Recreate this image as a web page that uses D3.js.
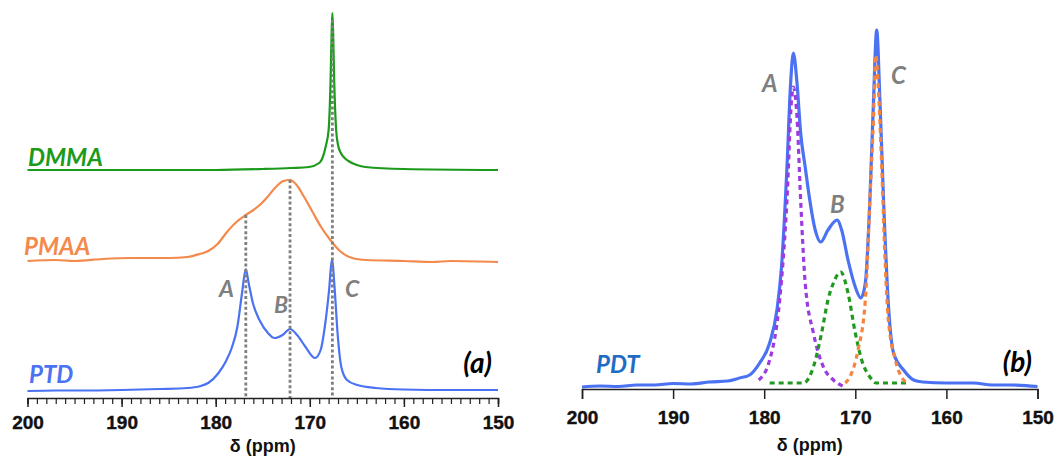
<!DOCTYPE html>
<html>
<head>
<meta charset="utf-8">
<script src="https://cdn.jsdelivr.net/npm/d3@7"></script>
<style>
  body { margin: 0; background: #fff; }
  svg { display: block; }
  .lbl { font-family: Lato, "Open Sans", sans-serif; font-weight: 700; font-style: italic; }
  .tick text { font-family: "Liberation Sans", Arial, sans-serif; font-weight: 700; }
</style>
</head>
<body>
<svg id="chart" width="1058" height="462"></svg>
<script>
// ---- data, [ppm, intensity a.u.] ----
var majorTicks = [200, 190, 180, 170, 160, 150];
var peakPpm = [176.8, 172.1, 167.6];       // A, B, C
var peakNames = ["A", "B", "C"];

// panel (a): stacked spectra, offsets in a.u.
var offsets = {PTD: 7, PMAA: 137, DMMA: 228};

var dmma = [[200,0],[190,0],[180,0],[175,1],[172,2],[170.1,3],[169,7],[168.7,11],[168.3,24],
  [168,40],[167.8,87],[167.68,137],[167.6,157],[167.52,137],[167.4,87],[167.2,40],[167,25],
  [166.7,17],[166.3,12],[165.9,9],[165,5],[164.1,3],[160,1],[150,0]];

var pmaa = [[200,0],[197,1],[195,0],[192,2],[189,3],[185,3],[183,4],[181.7,7],[180.8,10],[179.8,17],
  [178.8,29],[177.8,39],[176.8,46],[176,51],[175.2,57],[174.6,63],[173.6,74],[172.8,80],
  [172.1,81],[171.4,76],[170.6,64],[169.7,49],[168.8,34],[167.9,22],[166.8,10],[165.5,3],
  [164,1],[160,0],[157,-1],[155,0],[150,-1]];

var ptd = [[200,0],[197,0.5],[195,0.5],[190,1],[186,2],[183,3],[181.8,4.5],[180.8,8],[179.7,18],
  [178.9,30],[178.3,43],[177.7,64],[177.2,98],[176.8,122],[176.5,108],[176.05,88],[175.35,71],
  [174.45,58],[173.75,53],[172.9,56],[172.1,62],[171.35,56],[170.45,44],[169.45,33],
  [168.85,41],[168.35,68],[167.95,101],[167.65,132],[167.35,101],[167.05,58],[166.65,24],
  [166.05,11],[164.95,6],[163,3],[160,1.5],[155,1],[150,1]];

// panel (b): PDT spectrum and its three fitted components
var pdt = [[200,2],[198,3],[196,2.5],[194,4],[192,4],[190,5.5],[188,5],[186,7],[184,8],[182.7,11],
  [181.6,14],[180.5,26],[179.4,46],[178.6,79],[178.1,122],[177.5,222],[177.1,306],[176.8,336],
  [176.4,306],[176,256],[175.5,222],[175,189],[174.4,159],[173.8,147],[173,159],[172,169],
  [171.5,159],[170.8,129],[170,102],[169.4,91],[168.9,106],[168.4,189],[168,289],[167.65,359],
  [167.3,289],[166.9,189],[166.4,89],[165.8,36],[164.7,19],[163.6,9],[162.6,7],[160,6],
  [157,6],[155,4],[153,4],[150,2.5]];

var fitA = [[180.6,9],[179.4,29],[178.3,89],[177.5,189],[177,289],[176.8,302],[176.4,272],
  [176,189],[175.5,106],[174.6,56],[173.5,22],[172.4,9],[171.1,2]];
var fitB = [[179.4,6],[175.7,6],[174.6,22],[173.7,56],[173,89],[172.4,106],[171.6,117],
  [170.8,96],[170,56],[169.3,29],[168.4,12],[167.7,6],[164.2,6]];
var fitC = [[171.1,6],[170.6,12],[169.7,39],[168.9,89],[168.4,189],[168,272],[167.75,334],
  [167.5,306],[167.1,222],[166.7,122],[166.4,72],[165.6,29],[164.4,6]];

// ---- drawing ----
var svg = d3.select("#chart");

var green = "#1b9a1b", orange = "#f4894c", blue = "#4a72f2", grey = "#7f7f7f";

// panel (a)
var xA = d3.scaleLinear().domain([200, 150]).range([27.5, 498]);
var yA = d3.scaleLinear().domain([0, 385]).range([398, 13]);

function lineA(off) {
	return d3.line()
		.x(function(d) { return xA(d[0]); })
		.y(function(d) { return yA(d[1] + off); })
		.curve(d3.curveMonotoneX);
}

var gA = svg.append("g");
gA.append("path").datum(dmma).attr("d", lineA(offsets.DMMA))
	.attr("fill", "none").attr("stroke", green).attr("stroke-width", 2.2);
gA.append("path").datum(pmaa).attr("d", lineA(offsets.PMAA))
	.attr("fill", "none").attr("stroke", orange).attr("stroke-width", 2.2);
gA.append("path").datum(ptd).attr("d", lineA(offsets.PTD))
	.attr("fill", "none").attr("stroke", blue).attr("stroke-width", 2.2);

// dotted guides from the PMAA / DMMA features down to the axis
var guideTop = [yA(46 + offsets.PMAA), yA(81 + offsets.PMAA), yA(150 + offsets.DMMA)];
gA.selectAll(".guide").data(peakPpm).enter().append("line")
	.attr("x1", function(d) { return xA(d); })
	.attr("x2", function(d) { return xA(d); })
	.attr("y1", function(d, i) { return guideTop[i]; })
	.attr("y2", yA(0))
	.attr("stroke", grey).attr("stroke-width", 2.8).attr("stroke-dasharray", "3,2.4");

var axA = gA.append("g").attr("transform", "translate(0," + yA(0) + ")");
axA.call(d3.axisBottom(xA).tickValues(d3.range(200, 149, -1)).tickSize(6).tickFormat(""));
axA.call(function(g) {
	g.selectAll(".tick line").attr("stroke", "#222").attr("stroke-width", 1.2);
	g.select(".domain").attr("stroke", "#222").attr("stroke-width", 1.5);
});
var axA2 = gA.append("g").attr("transform", "translate(0," + yA(0) + ")");
axA2.call(d3.axisBottom(xA).tickValues(majorTicks).tickSize(9).tickPadding(9).tickFormat(d3.format("d")));
axA2.select(".domain").remove();
axA2.selectAll(".tick line").attr("stroke", "#222").attr("stroke-width", 1.5);
axA2.selectAll(".tick text").attr("font-size", 19).attr("fill", "#111")
	.attr("stroke", "#111").attr("stroke-width", 0.4);

gA.append("text").attr("x", xA(175)).attr("y", 452).attr("text-anchor", "middle")
	.attr("font-family", "Liberation Sans, Arial, sans-serif").attr("font-weight", 700)
	.attr("font-size", 18).attr("fill", "#111").text("δ (ppm)");

gA.append("text").attr("class", "lbl").attr("x", 28).attr("y", 166)
	.attr("font-size", 24).attr("fill", green).text("DMMA");
gA.append("text").attr("class", "lbl").attr("x", 24).attr("y", 255)
	.attr("font-size", 24).attr("fill", orange).text("PMAA");
gA.append("text").attr("class", "lbl").attr("x", 29).attr("y", 383)
	.attr("font-size", 24).attr("fill", blue).text("PTD");
gA.append("text").attr("class", "lbl").attr("x", 492).attr("y", 373).attr("text-anchor", "end")
	.attr("font-size", 28).attr("fill", "#000").text("(a)");

var letterPosA = [[219, 297], [274, 313], [345, 297]];
gA.selectAll(".pk").data(peakNames).enter().append("text").attr("class", "lbl")
	.attr("x", function(d, i) { return letterPosA[i][0]; })
	.attr("y", function(d, i) { return letterPosA[i][1]; })
	.attr("font-size", 23).attr("fill", grey).text(function(d) { return d; });

// panel (b)
var xB = d3.scaleLinear().domain([200, 150]).range([582, 1037.5]);
var yB = d3.scaleLinear().domain([0, 360]).range([389, 29]);
var lineB = d3.line()
	.x(function(d) { return xB(d[0]); })
	.y(function(d) { return yB(d[1]); })
	.curve(d3.curveMonotoneX);

var gB = svg.append("g");
gB.append("path").datum(pdt).attr("d", lineB)
	.attr("fill", "none").attr("stroke", blue).attr("stroke-width", 3.2);

var fits = [fitA, fitB, fitC];
var fitColors = ["#9b3be0", "#1f9a1f", "#f4843f"];
gB.selectAll(".fit").data(fits).enter().append("path")
	.attr("d", lineB)
	.attr("fill", "none")
	.attr("stroke", function(d, i) { return fitColors[i]; })
	.attr("stroke-width", 3.2).attr("stroke-dasharray", "5,4");

var axB = gB.append("g").attr("transform", "translate(0," + yB(0) + ")");
axB.call(d3.axisBottom(xB).tickValues(majorTicks).tickSize(10).tickPadding(12).tickFormat(d3.format("d")));
axB.select(".domain").attr("stroke", "#222").attr("stroke-width", 1.5);
axB.selectAll(".tick line").attr("stroke", "#222").attr("stroke-width", 1.5);
axB.selectAll(".tick text").attr("font-size", 19).attr("fill", "#111")
	.attr("stroke", "#111").attr("stroke-width", 0.4);

gB.append("text").attr("x", xB(175)).attr("y", 451).attr("text-anchor", "middle")
	.attr("font-family", "Liberation Sans, Arial, sans-serif").attr("font-weight", 700)
	.attr("font-size", 18).attr("fill", "#111").text("δ (ppm)");

gB.append("text").attr("class", "lbl").attr("x", 596).attr("y", 373)
	.attr("font-size", 24).attr("fill", "#1f6cc4").text("PDT");
gB.append("text").attr("class", "lbl").attr("x", 1032).attr("y", 372).attr("text-anchor", "end")
	.attr("font-size", 28).attr("fill", "#000").text("(b)");

var letterPosB = [[762, 92], [830, 213], [891, 84]];
gB.selectAll(".pk").data(peakNames).enter().append("text").attr("class", "lbl")
	.attr("x", function(d, i) { return letterPosB[i][0]; })
	.attr("y", function(d, i) { return letterPosB[i][1]; })
	.attr("font-size", 24).attr("fill", grey).text(function(d) { return d; });
</script>
</body>
</html>
